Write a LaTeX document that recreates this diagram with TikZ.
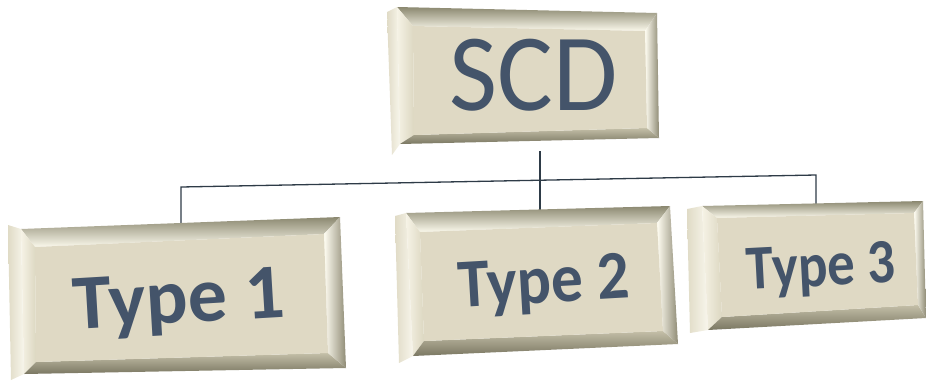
\documentclass[tikz,border=0pt]{standalone}
\usepackage{fontspec}
\setmainfont{Carlito}
\usepackage{tikz}

\definecolor{boxface}{HTML}{DFD9C4}
\definecolor{bevtop}{HTML}{8B8870}
\definecolor{bevhigh}{HTML}{FBF9EC}
\definecolor{bevleft}{HTML}{F6F3E6}
\definecolor{bevleftin}{HTML}{DCD7C1}
\definecolor{bevbot}{HTML}{7A7762}
\definecolor{bevbotin}{HTML}{C4BFA8}
\definecolor{bevright}{HTML}{8F8B75}
\definecolor{bevrightin}{HTML}{FFFDF2}
\definecolor{sidedark}{HTML}{E0DBC6}
\definecolor{sidelight}{HTML}{F8F6EC}
\definecolor{textcol}{HTML}{44546A}
\definecolor{linkcol}{HTML}{2E3B47}

\tikzset{
  link/.style={draw=linkcol, line width=1.3pt},
  boxtext/.style={text=textcol, inner sep=0pt, anchor=base}
}

% bevelled box from the named corners <name>-otl ... <name>-ibl
\newcommand{\bevelbox}[1]{%
  \shade[left color=sidedark, right color=sidelight] (#1-stl) -- (#1-otl) -- (#1-obl) -- (#1-sbl) -- cycle;
  \shade[top color=bevtop, bottom color=bevhigh] (#1-otl) -- (#1-otr) -- (#1-itr) -- (#1-itl) -- cycle;
  \shade[left color=bevleft, right color=bevleftin] (#1-otl) -- (#1-itl) -- (#1-ibl) -- (#1-obl) -- cycle;
  \shade[top color=bevbotin, bottom color=bevbot] (#1-ibl) -- (#1-ibr) -- (#1-obr) -- (#1-obl) -- cycle;
  \shade[left color=bevrightin, right color=bevright] (#1-itr) -- (#1-otr) -- (#1-obr) -- (#1-ibr) -- cycle;
  \fill[boxface] (#1-itl) -- (#1-itr) -- (#1-ibr) -- (#1-ibl) -- cycle;
}

\begin{document}
\begin{tikzpicture}[x=1pt, y=-1pt]
  \useasboundingbox (0,0) rectangle (926,381);

  % Connectors
  \coordinate (scd-foot) at (540,151);
  \coordinate (type2-top) at (540,212);
  \coordinate (bus-l) at (181,187);
  \coordinate (bus-r) at (816,175);
  \coordinate (type1-top) at (181,223);
  \coordinate (type3-top) at (816,204);
  \draw[link] (scd-foot) -- (type2-top);
  \draw[link] (type1-top) -- (bus-l) -- (bus-r) -- (type3-top);

  % SCD box
  \coordinate (scd-stl) at (387,12);  \coordinate (scd-sbl) at (392,155);
  \coordinate (scd-otl) at (397,7);   \coordinate (scd-otr) at (657,13);
  \coordinate (scd-obr) at (659,138); \coordinate (scd-obl) at (400,144);
  \coordinate (scd-itl) at (413,26);  \coordinate (scd-itr) at (645,31);
  \coordinate (scd-ibr) at (647,128); \coordinate (scd-ibl) at (414,135);
  \bevelbox{scd}
  \node[boxtext, font=\fontsize{110}{110}\selectfont, xscale=0.95] (scd) at (534,110) {SCD};

  % Type 1 box
  \coordinate (t1-stl) at (8,225);   \coordinate (t1-sbl) at (11,380);
  \coordinate (t1-otl) at (21,229);  \coordinate (t1-otr) at (340,217);
  \coordinate (t1-obr) at (346,368); \coordinate (t1-obl) at (24,374);
  \coordinate (t1-itl) at (35,247);  \coordinate (t1-itr) at (324,234);
  \coordinate (t1-ibr) at (328,353); \coordinate (t1-ibl) at (36,362);
  \bevelbox{t1}
  \node[boxtext, font=\bfseries\fontsize{78}{78}\selectfont, rotate=3.4] (type1) at (180,323) {Type 1};

  % Type 2 box
  \coordinate (t2-stl) at (395,216); \coordinate (t2-sbl) at (399,363);
  \coordinate (t2-otl) at (406,213); \coordinate (t2-otr) at (670,206);
  \coordinate (t2-obr) at (678,344); \coordinate (t2-obl) at (413,356);
  \coordinate (t2-itl) at (420,232); \coordinate (t2-itr) at (657,223);
  \coordinate (t2-ibr) at (663,331); \coordinate (t2-ibl) at (424,341);
  \bevelbox{t2}
  \node[boxtext, font=\bfseries\fontsize{69}{69}\selectfont, rotate=3.3, xscale=0.92] (type2) at (545,303) {Type 2};

  % Type 3 box
  \coordinate (t3-stl) at (687,209); \coordinate (t3-sbl) at (690,333);
  \coordinate (t3-otl) at (702,206); \coordinate (t3-otr) at (923,201);
  \coordinate (t3-obr) at (926,318); \coordinate (t3-obl) at (708,330);
  \coordinate (t3-itl) at (717,218); \coordinate (t3-itr) at (914,213);
  \coordinate (t3-ibr) at (918,305); \coordinate (t3-ibl) at (722,317);
  \bevelbox{t3}
  \node[boxtext, font=\bfseries\fontsize{63}{63}\selectfont, rotate=3, xscale=0.87] (type3) at (822,286) {Type 3};
\end{tikzpicture}
\end{document}
